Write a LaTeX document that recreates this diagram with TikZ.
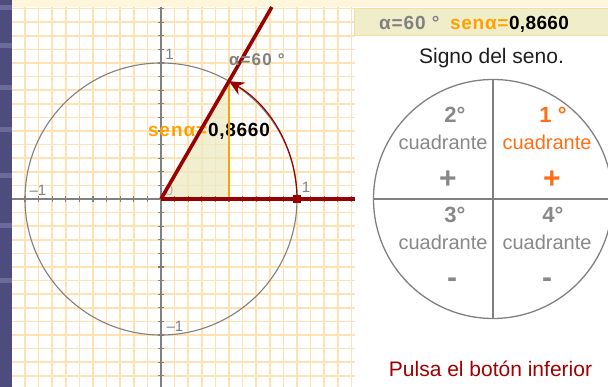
\documentclass[tikz,border=0pt]{standalone}
\usepackage{fontspec}
\setmainfont{Liberation Sans}
\usetikzlibrary{arrows.meta}
\definecolor{strip}{RGB}{78,76,124}
\definecolor{stripl}{RGB}{108,106,152}
\definecolor{cream}{RGB}{255,246,220}
\definecolor{gridc}{RGB}{255,226,180}
\definecolor{axisc}{RGB}{128,128,128}
\definecolor{dred}{RGB}{153,0,0}
\definecolor{sorange}{RGB}{255,160,0}
\definecolor{qorange}{RGB}{255,110,20}
\definecolor{qgray}{RGB}{136,136,136}
\definecolor{boxfill}{RGB}{240,237,202}
\definecolor{boxline}{RGB}{248,220,160}
\definecolor{trifill}{RGB}{236,234,196}
\definecolor{pulsa}{RGB}{160,0,0}
\definecolor{darktext}{RGB}{30,30,30}
\newcommand\myfs[1]{\fontsize{#1}{#1}\selectfont}
\begin{document}
\begin{tikzpicture}[x=1pt,y=1pt,
  gridline/.style={gridc, line width=1.6pt},
  axisline/.style={axisc, line width=1.6pt},
  tickline/.style={axisc, line width=1.2pt},
  unitcirc/.style={axisc, line width=1.1pt},
  redline/.style={dred, line width=3.6pt},
  redarc/.style={dred, line width=1.2pt, -{Stealth[length=15pt,width=14pt,inset=5pt]}},
  sinline/.style={sorange, line width=2.6pt},
  lbl/.style={inner sep=0pt, outer sep=0pt},
  axnum/.style={lbl, text=axisc, font=\myfs{15}},
  quadline/.style={axisc, line width=1.3pt},
  qord/.style={lbl, anchor=base, font=\myfs{22}\bfseries},
  qword/.style={lbl, anchor=base, font=\myfs{20}},
  qsign/.style={lbl, anchor=base, font=\myfs{30}\bfseries}
]
\useasboundingbox (0,0) rectangle (608,387);
\fill[white] (0,0) rectangle (608,387);
% left strip
\fill[strip] (0,0) rectangle (12,387);
\foreach \yy in {5,43,85,127,173,223,278} {
  \fill[stripl] (0,{387-\yy-5}) rectangle (12,{387-\yy});
}
% grid
\begin{scope}
\clip (12,0) rectangle (355,380);
\foreach \k in {-11,...,14} \draw[gridline] ({161+\k*13.6},0) -- ({161+\k*13.6},380);
\foreach \k in {-14,...,14} \draw[gridline] (12,{188+\k*13.6}) -- (355,{188+\k*13.6});
\end{scope}
% top cream band
\fill[cream] (12,380) rectangle (608,387);
% right panel
\fill[white] (355,0) rectangle (608,380);
% named points
\coordinate (O) at (161,188);
\coordinate (A) at (297,188);
\coordinate (P) at (229,305.8);
\coordinate (Q) at (229,188);
\coordinate (T) at (271.85,380);
\coordinate (XL) at (12,188);
\coordinate (XR) at (355,188);
\coordinate (YB) at (161,0);
\coordinate (YT) at (161,380);
% triangle fill
\fill[trifill, opacity=0.75] (O) -- (Q) -- (P) -- cycle;
% unit circle
\draw[unitcirc] (O) circle[radius=136pt];
% axes
\draw[axisline] (XL) -- (XR);
\draw[axisline] (YB) -- (YT);
\foreach \k in {-10,...,14} \draw[tickline] ({161+\k*13.6},185) -- ({161+\k*13.6},191);
\foreach \k in {-13,...,14} \draw[tickline] (158,{188+\k*13.6}) -- (164,{188+\k*13.6});
% axis labels
\node[axnum] (ny1) at (169.5,333) {1};
\node[axnum] (nxm1) at (38,197) {–1};
\node[axnum] (nx1) at (306,199.5) {1};
\node[axnum, text=axisc!60] (n0) at (169,197) {0};
\node[axnum] (nym1) at (175,61) {–1};
% sine label
\node[lbl, anchor=base west, text=sorange, font=\myfs{19}\bfseries\addfontfeatures{LetterSpace=5}] (sl) at (148,250.3) {senα=};
\node[lbl, anchor=base west, text=black, font=\myfs{19}\bfseries\addfontfeatures{LetterSpace=4}] (sv) at (208,250.3) {0,8660};
% sine line
\draw[sinline] (Q) -- (P);
% red lines
\draw[redline] (O) -- (T);
\draw[redline] (O) -- (XR);
% arc with arrow
\draw[redarc] (A) arc[start angle=0, end angle=60, radius=136pt];
\node[fill=dred, minimum size=7.5pt, inner sep=0pt] (dot) at (A) {};
% angle label
\node[lbl, anchor=base west, text=axisc, font=\myfs{17}\bfseries\addfontfeatures{LetterSpace=7}] (al) at (229,321) {α=60 °};
% top box
\draw[boxline, fill=boxfill, line width=1pt] (354.5,351) rectangle (608.5,378);
\node[lbl, anchor=base west, text=axisc, font=\myfs{19}\bfseries\addfontfeatures{LetterSpace=5}] (b1) at (379,357) {α=60 °};
\node[lbl, anchor=base west, text=sorange, font=\myfs{19}\bfseries\addfontfeatures{LetterSpace=4}] (b2) at (450,357) {senα=};
\node[lbl, anchor=base west, text=black, font=\myfs{19}\bfseries\addfontfeatures{LetterSpace=2}] (b3) at (509,357) {0,8660};
% title
\node[lbl, anchor=base, text=darktext, font=\myfs{21}] (title) at (491.5,323.7) {Signo del seno.};
% quadrant circle
\coordinate (C) at (493,188);
\coordinate (CL) at (373.5,188);
\coordinate (CR) at (612.5,188);
\coordinate (CT) at (493,307.5);
\coordinate (CB) at (493,68.5);
\begin{scope}
\clip (355,0) rectangle (608,380);
\draw[quadline] (C) circle[radius=119.5pt];
\draw[quadline] (CL) -- (CR);
\draw[quadline] (CB) -- (CT);
\end{scope}
% quadrant texts
\node[qord, text=qgray] (q2) at (455,264) {2°};
\node[qword, text=qgray] (q2w) at (443,237) {cuadrante};
\node[qsign, text=qgray] (q2s) at (448,198.5) {+};
\node[qord, text=qorange] (q1) at (553,264) {1 °};
\node[qword, text=qorange] (q1w) at (547,237) {cuadrante};
\node[qsign, text=qorange] (q1s) at (552,198.5) {+};
\node[qord, text=qgray] (q3) at (455,164) {3°};
\node[qword, text=qgray] (q3w) at (443,137) {cuadrante};
\node[qsign, text=qgray] (q3s) at (452,99) {-};
\node[qord, text=qgray] (q4) at (553,164) {4°};
\node[qword, text=qgray] (q4w) at (547,137) {cuadrante};
\node[qsign, text=qgray] (q4s) at (547,99) {-};
% bottom note
\node[lbl, anchor=base, text=pulsa, font=\myfs{21}] (note) at (490.5,10) {Pulsa el botón inferior};
\end{tikzpicture}
\end{document}
